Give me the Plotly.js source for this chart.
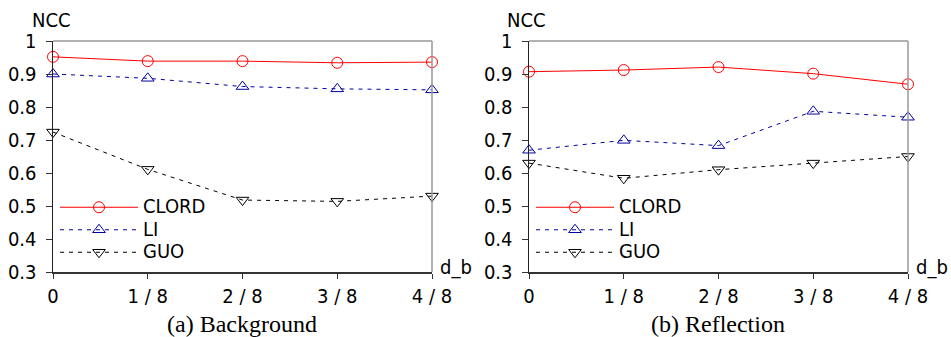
<!DOCTYPE html>
<html>
<head>
<meta charset="utf-8">
<script src="https://cdn.plot.ly/plotly-3.0.1.min.js"></script>
<style>html,body{margin:0;padding:0;background:#fff}</style>
</head>
<body>
<div id="chart" style="width:951px;height:337px"></div>
<script>
var xVals = [0, 1, 2, 3, 4];
var xTickLabels = ['0', '1 / 8', '2 / 8', '3 / 8', '4 / 8'];
var yTicks = [0.3, 0.4, 0.5, 0.6, 0.7, 0.8, 0.9, 1];
var yTickLabels = ['0.3', '0.4', '0.5', '0.6', '0.7', '0.8', '0.9', '1'];
var seriesNames = ['CLORD', 'LI', 'GUO'];
var panelTitles = ['(a) Background', '(b) Reflection'];

// (a) Background
var bgCLORD = [0.952, 0.939, 0.939, 0.934, 0.936];
var bgLI    = [0.900, 0.887, 0.862, 0.855, 0.852];
var bgGUO   = [0.724, 0.611, 0.518, 0.514, 0.530];
// (b) Reflection
var rfCLORD = [0.907, 0.912, 0.921, 0.901, 0.869];
var rfLI    = [0.669, 0.699, 0.683, 0.787, 0.769];
var rfGUO   = [0.630, 0.584, 0.610, 0.630, 0.650];

var FAM = 'DejaVu Sans Condensed, DejaVu Sans';
var styles = [
  {color: '#ff0000', dash: 'solid', symbol: 'circle-open'},
  {color: '#0000a0', dash: '4px,5px', symbol: 'triangle-up-open'},
  {color: '#000000', dash: '4px,5px', symbol: 'triangle-down-open'}
];

function mk(y, i, xa, ya, lg) {
  return {
    x: xVals, y: y, type: 'scatter', mode: 'lines+markers',
    name: '<span style="font-size:20px">' + seriesNames[i] + '</span>',
    xaxis: xa, yaxis: ya, legend: lg,
    cliponaxis: false,
    line: {color: styles[i].color, width: 1, dash: styles[i].dash},
    marker: {symbol: styles[i].symbol, size: 11, color: styles[i].color,
             line: {color: styles[i].color, width: 1}}
  };
}

var data = [
  mk(bgCLORD, 0, 'x', 'y', 'legend'),
  mk(bgLI, 1, 'x', 'y', 'legend'),
  mk(bgGUO, 2, 'x', 'y', 'legend'),
  mk(rfCLORD, 0, 'x2', 'y2', 'legend2'),
  mk(rfLI, 1, 'x2', 'y2', 'legend2'),
  mk(rfGUO, 2, 'x2', 'y2', 'legend2')
];

var H = 337, W = 951;
var yDom = [(H - 272) / H, (H - 41) / H];
var font = {family: FAM, size: 20, color: '#000'};

function xax(dom, anchor) {
  return {
    domain: dom, anchor: anchor, range: [0, 4], tickmode: 'array',
    tickvals: xVals, ticktext: xTickLabels, ticks: 'outside', ticklen: 5,
    tickcolor: '#333', showline: true, linecolor: '#333', linewidth: 1.5,
    showgrid: false, zeroline: false, tickfont: font, fixedrange: true
  };
}
function yax(anchor) {
  return {
    domain: yDom, anchor: anchor, range: [0.3, 1], tickmode: 'array',
    tickvals: yTicks, ticktext: yTickLabels, ticks: 'outside', ticklen: 6,
    tickcolor: '#333', showline: true, linecolor: '#222', linewidth: 1.5,
    showgrid: false, zeroline: false, tickfont: font, ticklabelstandoff: 5,
    fixedrange: true
  };
}

function legendAt(xpx) {
  return {
    x: xpx / W, xanchor: 'left', y: (H - 191) / H, yanchor: 'top',
    bgcolor: 'rgba(0,0,0,0)', borderwidth: 0,
    font: {family: FAM, size: 15, color: '#000'},
    itemwidth: 78, tracegroupgap: 0, itemclick: false, itemdoubleclick: false
  };
}

function border(xa, ya) {
  return [
    {type: 'line', xref: xa + ' domain', yref: ya + ' domain', x0: 0, x1: 1, y0: 1, y1: 1,
     line: {color: '#999', width: 1.5}},
    {type: 'line', xref: xa + ' domain', yref: ya + ' domain', x0: 1, x1: 1, y0: 0, y1: 1,
     line: {color: '#999', width: 1.5}}
  ];
}

function ann(text, xref, yref, x, y, xanchor, yanchor, xs, ys, f) {
  return {text: text, xref: xref, yref: yref, x: x, y: y, xanchor: xanchor,
          yanchor: yanchor, xshift: xs, yshift: ys, showarrow: false, font: f};
}

var serif = {family: 'Liberation Serif', size: 24, color: '#000'};

var layout = {
  width: W, height: H,
  margin: {l: 0, r: 0, t: 0, b: 0},
  paper_bgcolor: '#fff', plot_bgcolor: '#fff',
  showlegend: true,
  xaxis: xax([53 / W, 432 / W], 'y'),
  yaxis: yax('x'),
  xaxis2: xax([529 / W, 908 / W], 'y2'),
  yaxis2: yax('x2'),
  legend: legendAt(55),
  legend2: legendAt(531),
  shapes: border('x', 'y').concat(border('x2', 'y2')),
  annotations: [
    ann('NCC', 'x domain', 'y domain', 0, 1, 'center', 'bottom', -2, 7, font),
    ann('NCC', 'x2 domain', 'y2 domain', 0, 1, 'center', 'bottom', -3, 7, font),
    ann('d_b', 'x domain', 'y domain', 1, 0, 'left', 'middle', 6, 5, font),
    ann('d_b', 'x2 domain', 'y2 domain', 1, 0, 'left', 'middle', 6, 5, font),
    ann(panelTitles[0], 'paper', 'paper', 242 / W, (H - 324) / H, 'center', 'middle', 0, 0, serif),
    ann(panelTitles[1], 'paper', 'paper', 718 / W, (H - 324) / H, 'center', 'middle', 0, 0, serif)
  ]
};

Plotly.newPlot('chart', data, layout, {displayModeBar: false, staticPlot: true});
</script>
</body>
</html>
